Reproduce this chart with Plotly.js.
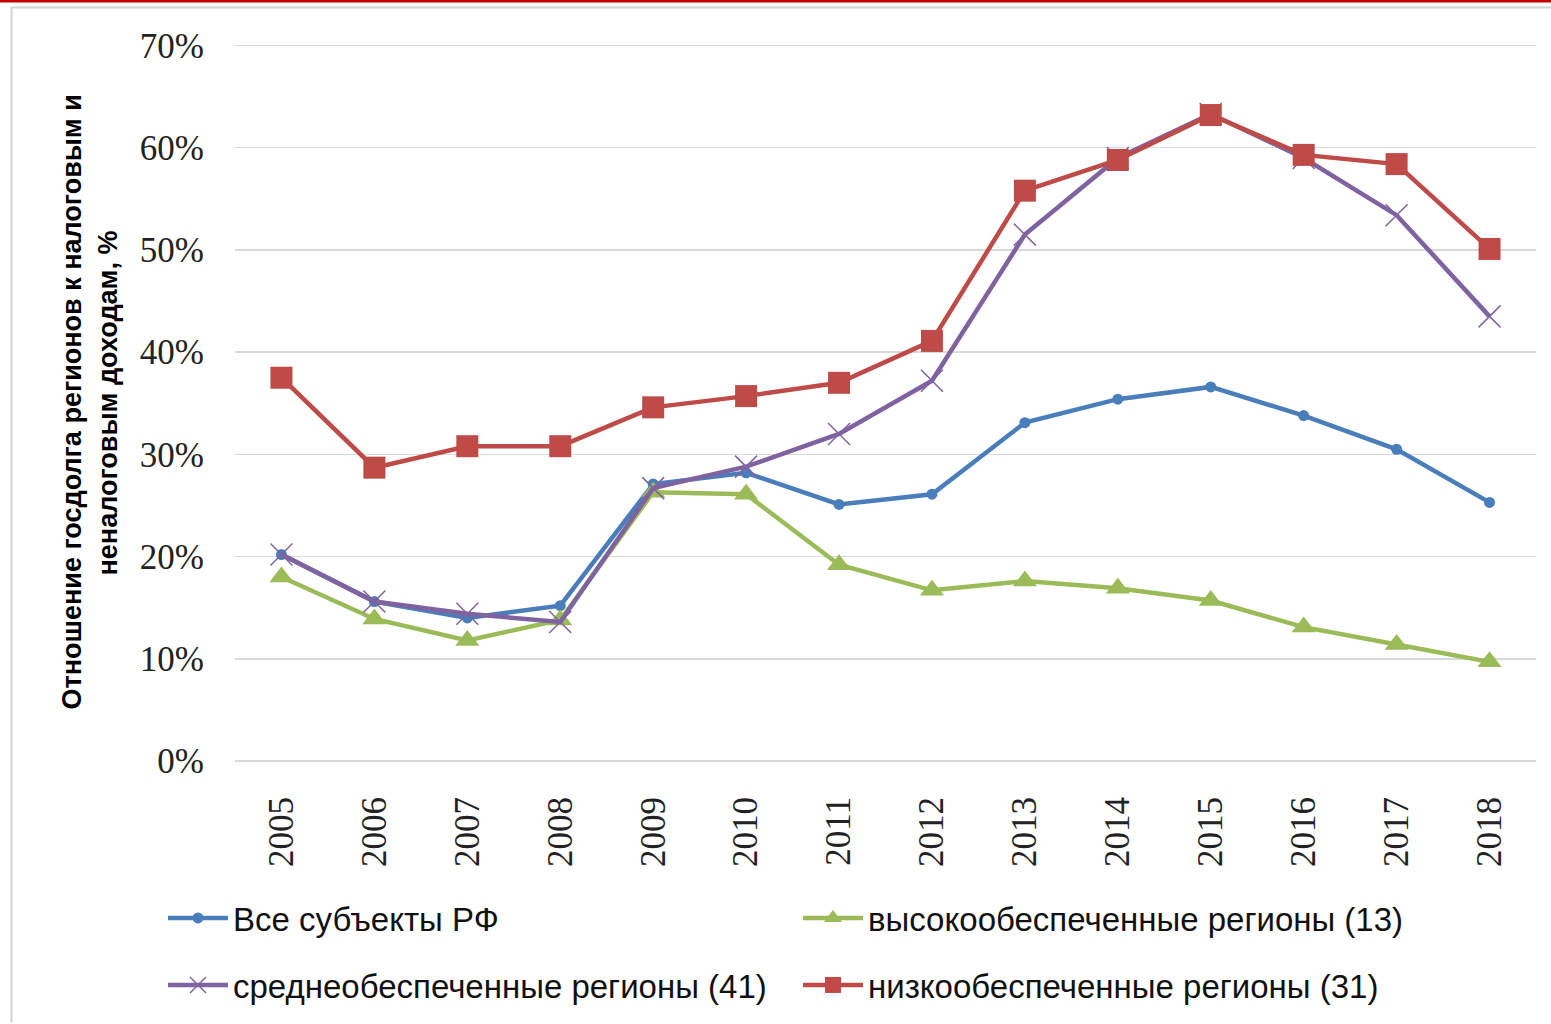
<!DOCTYPE html>
<html>
<head>
<meta charset="utf-8">
<script src="https://cdn.plot.ly/plotly-3.0.1.min.js"></script>
<style>html,body{margin:0;padding:0;background:#fff;}#chart{width:1551px;height:1024px;}</style>
</head>
<body>
<div id="chart"></div>
<script>
const years = ['2005','2006','2007','2008','2009','2010','2011','2012','2013','2014','2015','2016','2017','2018'];
const allRegions = [20.2,15.6,14.0,15.2,27.1,28.2,25.1,26.1,33.1,35.4,36.6,33.8,30.5,25.3];
const highIncome = [18.0,13.9,11.8,13.8,26.3,26.1,19.2,16.7,17.6,16.9,15.7,13.1,11.4,9.7];
const midIncome = [20.2,15.6,14.4,13.6,26.7,28.8,32.0,37.2,51.5,59.0,63.3,59.0,53.4,43.5];
const lowIncome = [37.5,28.7,30.8,30.8,34.6,35.7,37.0,41.1,55.8,58.8,63.2,59.3,58.4,50.1];
const seriesNames = ['Все субъекты РФ','высокообеспеченные регионы (13)','среднеобеспеченные регионы (41)','низкообеспеченные регионы (31)'];
const yTitle1 = 'Отношение госдолга регионов к налоговым и';
const yTitle2 = 'неналоговым доходам, %';

const W = 1551, H = 1024, L = 235, R = 15, T = 44, B = 262;
const pw = W - L - R, ph = H - T - B;
const px = v => (v - L) / pw;
const py = v => (H - B - v) / ph;

const toFrac = a => a.map(v => v / 100);

const traces = [
  {x: years, y: toFrac(allRegions), name: seriesNames[0], type: 'scatter', mode: 'lines+markers',
   line: {color: '#4a7ebb', width: 4.5}, marker: {symbol: 'circle', size: 11, color: '#4a7ebb'}, legend: 'legend'},
  {x: years, y: toFrac(highIncome), name: seriesNames[1], type: 'scatter', mode: 'lines+markers',
   line: {color: '#9bbb59', width: 4.5}, marker: {symbol: 'triangle-up', size: 21, color: '#9bbb59'}, legend: 'legend'},
  {x: years, y: toFrac(midIncome), name: seriesNames[2], type: 'scatter', mode: 'lines+markers',
   line: {color: '#7f63a1', width: 4.5}, marker: {symbol: 'x-thin-open', size: 22, color: '#7f63a1', line: {color: '#7f63a1', width: 1.5}}, legend: 'legend2'},
  {x: years, y: toFrac(lowIncome), name: seriesNames[3], type: 'scatter', mode: 'lines+markers',
   line: {color: '#be4b48', width: 4.5}, marker: {symbol: 'square', size: 22, color: '#be4b48'}, legend: 'legend2'}
];

const legendFont = {family: 'Liberation Sans, Arial, sans-serif', size: 33, color: '#111'};

const layout = {
  width: W, height: H,
  margin: {l: L, r: R, t: T, b: B},
  paper_bgcolor: '#fff', plot_bgcolor: '#fff',
  showlegend: true,
  xaxis: {
    type: 'category', range: [-0.5, 13.5], tickangle: -90, showgrid: false, zeroline: false, showline: false,
    ticks: '', ticklabelstandoff: 28,
    tickfont: {family: 'Liberation Serif, Times New Roman, serif', size: 35, color: '#222'}
  },
  yaxis: {
    range: [0, 0.7015], dtick: 0.1, tickformat: '.0%', showgrid: true, gridcolor: '#d9d9d9', gridwidth: 1.5,
    zeroline: true, zerolinecolor: '#d9d9d9', zerolinewidth: 1.5, showline: false, ticks: '', ticklabelstandoff: 30,
    tickfont: {family: 'Liberation Serif, Times New Roman, serif', size: 35, color: '#222'}
  },
  legend: {orientation: 'h', x: px(163), y: py(918), xanchor: 'left', yanchor: 'middle',
    entrywidth: 560, entrywidthmode: 'pixels', itemwidth: 60, font: legendFont, bgcolor: 'rgba(0,0,0,0)'},
  legend2: {orientation: 'h', x: px(163), y: py(985), xanchor: 'left', yanchor: 'middle',
    entrywidth: 560, entrywidthmode: 'pixels', itemwidth: 60, font: legendFont, bgcolor: 'rgba(0,0,0,0)'},
  annotations: [
    {text: yTitle1, xref: 'paper', yref: 'paper', x: px(71), y: py(403), xanchor: 'center', yanchor: 'middle',
     textangle: -90, showarrow: false, font: {family: 'Liberation Sans, Arial, sans-serif', size: 27, color: '#000', weight: 'bold'}},
    {text: yTitle2, xref: 'paper', yref: 'paper', x: px(108), y: py(404), xanchor: 'center', yanchor: 'middle',
     textangle: -90, showarrow: false, font: {family: 'Liberation Sans, Arial, sans-serif', size: 27, color: '#000', weight: 'bold'}}
  ],
  shapes: [
    {type: 'line', xref: 'paper', yref: 'paper', x0: px(0), x1: px(1551), y0: py(1), y1: py(1), line: {color: '#c00000', width: 3}},
    {type: 'line', xref: 'paper', yref: 'paper', x0: px(11), x1: px(1551), y0: py(7.5), y1: py(7.5), line: {color: '#d4d4d4', width: 2}},
    {type: 'line', xref: 'paper', yref: 'paper', x0: px(11.5), x1: px(11.5), y0: py(7.5), y1: py(1024), line: {color: '#d4d4d4', width: 2}}
  ]
};

Plotly.newPlot('chart', traces, layout, {displayModeBar: false, staticPlot: true});
</script>
</body>
</html>
